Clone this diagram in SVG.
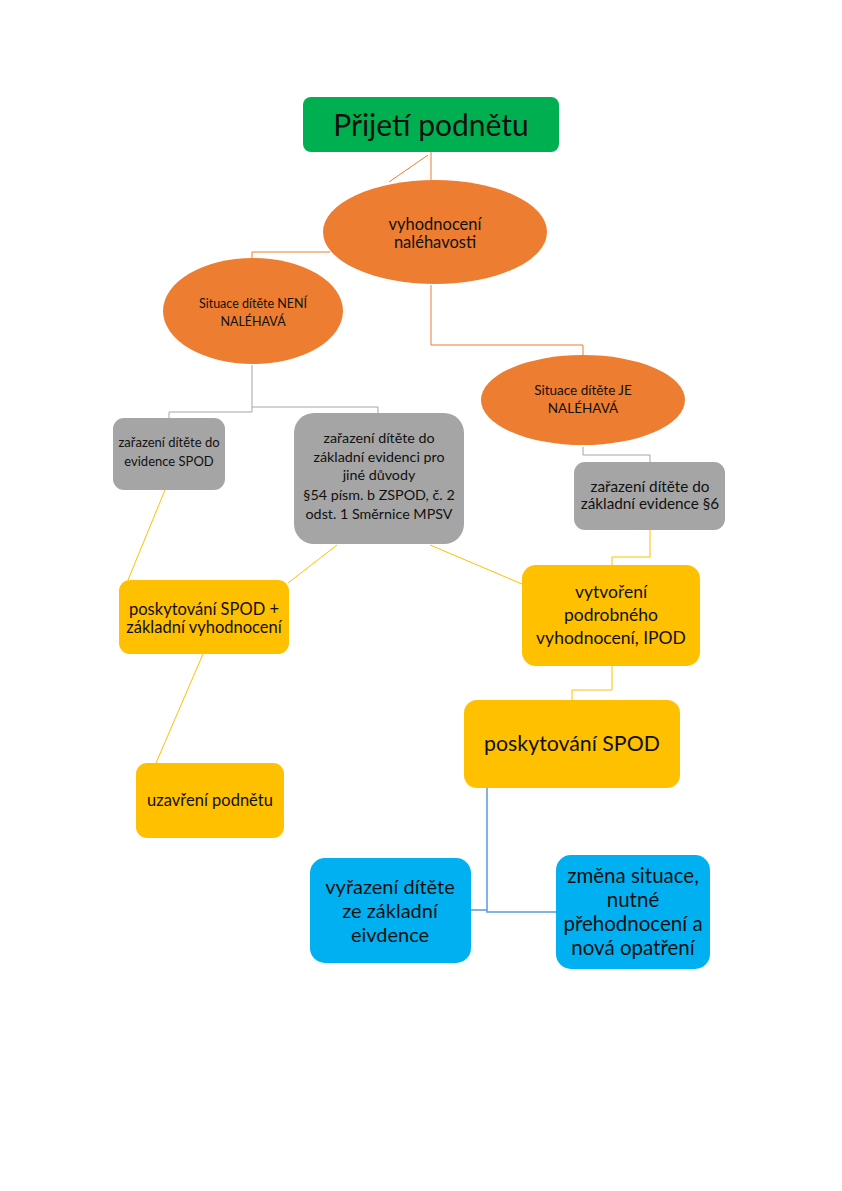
<svg xmlns="http://www.w3.org/2000/svg" width="842" height="1191" viewBox="0 0 842 1191">
<style>
text{font-family:Lato,"Liberation Sans",sans-serif;fill:#111;text-anchor:middle}
.or{fill:#ED7D31}
.gr{fill:#A5A5A5}
.ye{fill:#FFC000}
.bl{fill:#00B0F0}
.co{fill:none;stroke-width:1}
.c-or{stroke:#ED7D31}
.c-gr{stroke:#A5A5A5}
.c-ye{stroke:#FFC000}
.c-bl{stroke:#5B9BD5;stroke-width:1.5}
</style>
<rect width="842" height="1191" fill="#fff"/>
<g id="connectors">
<path class="co c-or" d="M431 152V180M428 155L389 182"/>
<path class="co c-or" d="M330 252H252V260"/>
<path class="co c-or" d="M431 285V345H583V358"/>
<path class="co c-gr" d="M252 365V412H169V419M252 407H378V413"/>
<path class="co c-gr" d="M583 447V455H650V462"/>
<path class="co c-ye" d="M650 530V557H612V565"/>
<path class="co c-ye" d="M165 490L128 580M337 545L288 583M430 545L522 584M203 654L156 763"/>
<path class="co c-ye" d="M612 666V690H572V700"/>
<path class="co c-bl" d="M487 788V912H556M471 910H487"/>
</g>
<g id="n1"><rect x="303" y="97" width="256" height="55" rx="8" fill="#00B050"/><text x="431" y="136" font-size="30">Přijetí podnětu</text></g>
<g id="n2"><ellipse cx="435" cy="232" rx="112" ry="52" class="or"/><text x="435" y="230" font-size="16.5">vyhodnocení</text><text x="435" y="248" font-size="16.5">naléhavosti</text></g>
<g id="n3"><ellipse cx="253" cy="311" rx="90" ry="53" class="or"/><text x="253" y="308" font-size="12.5">Situace dítěte NENÍ</text><text x="253" y="326" font-size="12.5">NALÉHAVÁ</text></g>
<g id="n4"><ellipse cx="583" cy="400" rx="102" ry="45" class="or"/><text x="583" y="395" font-size="13.5">Situace dítěte JE</text><text x="583" y="413" font-size="13.5">NALÉHAVÁ</text></g>
<g id="n5"><rect x="113" y="418" width="112" height="72" rx="11" class="gr"/><text x="169" y="447" font-size="13">zařazení dítěte do</text><text x="169" y="466" font-size="13">evidence SPOD</text></g>
<g id="n6"><rect x="294" y="413" width="170" height="131" rx="20" class="gr"/><text x="379" y="443" font-size="14.3">zařazení dítěte do</text><text x="379" y="462" font-size="14.3">základní evidenci pro</text><text x="379" y="480" font-size="14.3">jiné důvody</text><text x="379" y="500" font-size="14.3">§54 písm. b ZSPOD, č. 2</text><text x="379" y="519" font-size="14.3">odst. 1 Směrnice MPSV</text></g>
<g id="n7"><rect x="574" y="462" width="151" height="68" rx="11" class="gr"/><text x="650" y="492" font-size="15.3">zařazení dítěte do</text><text x="650" y="509" font-size="15.3">základní evidence §6</text></g>
<g id="n8"><rect x="119" y="580" width="170" height="74" rx="11" class="ye"/><text x="204" y="615" font-size="16.5">poskytování SPOD +</text><text x="204" y="633" font-size="16.5">základní vyhodnocení</text></g>
<g id="n9"><rect x="522" y="565" width="178" height="101" rx="14" class="ye"/><text x="611" y="598" font-size="17.5">vytvoření</text><text x="611" y="621" font-size="17.5">podrobného</text><text x="611" y="644" font-size="17.5">vyhodnocení, IPOD</text></g>
<g id="n10"><rect x="464" y="700" width="216" height="88" rx="13" class="ye"/><text x="572" y="751" font-size="21.3">poskytování SPOD</text></g>
<g id="n11"><rect x="136" y="763" width="148" height="75" rx="11" class="ye"/><text x="210" y="806" font-size="16.5">uzavření podnětu</text></g>
<g id="n12"><rect x="310" y="858" width="161" height="105" rx="15" class="bl"/><text x="390" y="894" font-size="20">vyřazení dítěte</text><text x="390" y="918" font-size="20">ze základní</text><text x="390" y="942" font-size="20">eivdence</text></g>
<g id="n13"><rect x="556" y="855" width="154" height="114" rx="15" class="bl"/><text x="633" y="883" font-size="20.5">změna situace,</text><text x="633" y="907" font-size="20.5">nutné</text><text x="633" y="931" font-size="20.5">přehodnocení a</text><text x="633" y="955" font-size="20.5">nová opatření</text></g>
</svg>
